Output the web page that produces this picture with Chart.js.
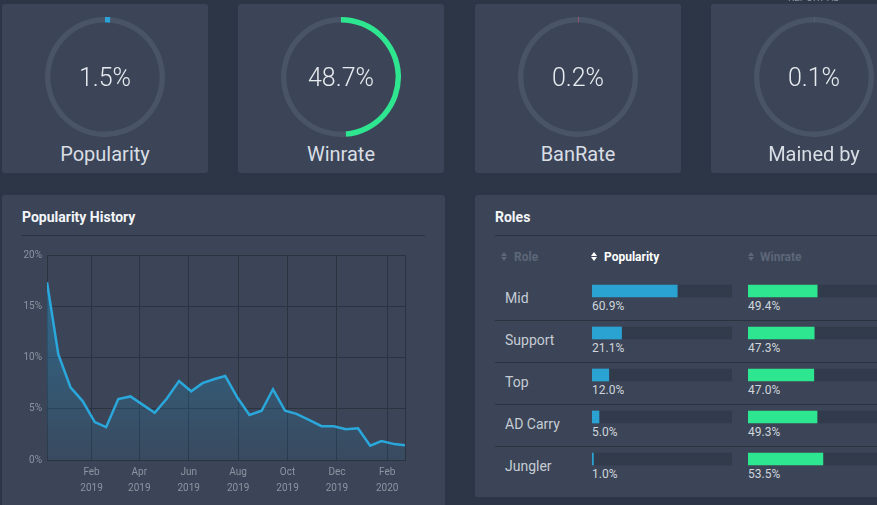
<!DOCTYPE html>
<html>
<head>
<meta charset="utf-8">
<script src="https://cdn.jsdelivr.net/npm/chart.js@4.4.0/dist/chart.umd.min.js"></script>
<style>
    body {
        margin: 0;
        width: 877px;
        height: 505px;
        overflow: hidden;
        position: relative;
        background: #2d3646;
        font-family: Roboto, 'Noto Sans', sans-serif;
    }
    .card { position: absolute; background: #3b4557; border-radius: 3px; }
    .abs { position: absolute; line-height: 1; white-space: nowrap; }
    .valor { font-size: 25px; font-weight: 300; color: #e8ebef; width: 206px; text-align: center; }
    .rotulo { font-size: 20px; color: #d9dee5; width: 206px; text-align: center; }
    .titulo { font-size: 14px; font-weight: 700; color: #f3f5f8; }
    .linha { position: absolute; height: 1px; background: #2a3240; }
    .cab { font-size: 12px; font-weight: 700; color: #5d6779; }
    .cab.ativo { color: #ffffff; }
    .papel { font-size: 14px; color: #c6ccd4; }
    .pct { font-size: 12px; color: #d0d5dc; }
    .sort { position: absolute; width: 7px; height: 9px; }
    .sort::before, .sort::after {
        content: ''; position: absolute; left: 0;
        border-left: 3.5px solid transparent; border-right: 3.5px solid transparent;
    }
    .sort::before { top: 0; border-bottom: 4px solid currentColor; }
    .sort::after { top: 5px; border-top: 4px solid currentColor; }
    canvas { position: absolute; }
</style>
</head>
<body>
<script>
// Indicadores do topo
const statLabels = ['Popularity', 'Winrate', 'BanRate', 'Mained by'];
const statValues = [1.5, 48.7, 0.2, 0.1];
const statColors = ['#2ba3d6', '#2fe690', '#e0587a', '#c9a3b3'];

// Histórico de popularidade
const historyDates = [
    '2018-12-08', '2018-12-22', '2019-01-06', '2019-01-21', '2019-02-05', '2019-02-19',
    '2019-03-06', '2019-03-21', '2019-04-05', '2019-04-20', '2019-05-05', '2019-05-20',
    '2019-06-04', '2019-06-18', '2019-07-03', '2019-07-16', '2019-07-31', '2019-08-15',
    '2019-08-30', '2019-09-13', '2019-09-28', '2019-10-12', '2019-10-28', '2019-11-12',
    '2019-11-27', '2019-12-12', '2019-12-27', '2020-01-11', '2020-01-25', '2020-02-10',
    '2020-02-23'
];
const historyValues = [
    17.35, 10.3, 7.1, 5.75, 3.7, 3.2,
    5.95, 6.2, 5.4, 4.6, 6.0, 7.7,
    6.7, 7.5, 7.9, 8.2, 6.1, 4.4,
    4.8, 6.9, 4.8, 4.5, 3.9, 3.3,
    3.3, 3.0, 3.1, 1.4, 1.85, 1.55,
    1.45
];
const tickDates = ['2019-02-01', '2019-04-01', '2019-06-01', '2019-08-01', '2019-10-01', '2019-12-01', '2020-02-01'];
const tickMonths = ['Feb', 'Apr', 'Jun', 'Aug', 'Oct', 'Dec', 'Feb'];
const tickYears = ['2019', '2019', '2019', '2019', '2019', '2019', '2020'];
const yTicks = [0, 5, 10, 15, 20];

// Tabela de funções
const roleNames = ['Mid', 'Support', 'Top', 'AD Carry', 'Jungler'];
const rolePopularity = [60.9, 21.1, 12.0, 5.0, 1.0];
const roleWinrate = [49.4, 47.3, 47.0, 49.3, 53.5];

Chart.defaults.font.family = "Roboto, 'Noto Sans', sans-serif";

function criar(tag, classe, estilo, texto) {
    const el = document.createElement(tag);
    if (classe) el.className = classe;
    if (estilo) el.style.cssText = estilo;
    if (texto !== undefined) el.textContent = texto;
    document.body.appendChild(el);
    return el;
}

const dia = s => Date.parse(s + 'T00:00:00Z') / 86400000;

// Cartões com rosca
const cardLeft = [2, 238, 475, 711];
statLabels.forEach((nome, i) => {
    const x = cardLeft[i];
    criar('div', 'card', `left:${x}px;top:4px;width:206px;height:169px;`);
    const cv = criar('canvas', null, `left:${x + 43}px;top:17px;`);
    cv.width = 120;
    cv.height = 120;
    new Chart(cv, {
        type: 'doughnut',
        data: {
            datasets: [{
                data: [statValues[i], 100 - statValues[i]],
                backgroundColor: [statColors[i], '#4a5467'],
                borderWidth: 0,
            }],
        },
        options: {
            responsive: false,
            animation: false,
            cutout: '91%',
            events: [],
            plugins: { legend: { display: false }, tooltip: { enabled: false } },
        },
    });
    criar('div', 'abs valor', `left:${x}px;top:65px;`, statValues[i].toFixed(1) + '%');
    criar('div', 'abs rotulo', `left:${x}px;top:144px;`, nome);
});
criar('div', 'abs', 'left:711px;top:-7px;width:206px;text-align:center;font-size:10px;color:#8b94a3;', 'REPORT AD');

// Cartão do histórico
criar('div', 'card', 'left:2px;top:195px;width:443px;height:330px;');
criar('div', 'abs titulo', 'left:22px;top:210px;', 'Popularity History');
criar('div', 'linha', 'left:22px;top:235px;width:403px;');

const cvHist = criar('canvas', null, 'left:10px;top:244px;');
cvHist.width = 410;
cvHist.height = 256;
const corGrade = '#2b3341';
new Chart(cvHist, {
    type: 'line',
    data: {
        datasets: [{
            data: historyDates.map((d, i) => ({ x: dia(d), y: historyValues[i] })),
            borderColor: '#2aa8dc',
            borderWidth: 2.5,
            pointRadius: 0,
            tension: 0,
            fill: 'origin',
            backgroundColor: (c) => {
                const area = c.chart.chartArea;
                if (!area) return null;
                const g = c.chart.ctx.createLinearGradient(0, area.top, 0, area.bottom);
                g.addColorStop(0, 'rgba(34,150,205,0.5)');
                g.addColorStop(1, 'rgba(34,150,205,0.07)');
                return g;
            },
        }],
    },
    options: {
        responsive: false,
        animation: false,
        events: [],
        layout: { padding: { top: 10, right: 15, left: 0, bottom: 0 } },
        plugins: { legend: { display: false }, tooltip: { enabled: false } },
        scales: {
            x: {
                type: 'linear',
                min: dia(historyDates[0]),
                max: dia(historyDates[historyDates.length - 1]),
                afterBuildTicks: s => { s.ticks = tickDates.map(d => ({ value: dia(d) })); },
                afterFit: s => { s.height = 40; },
                grid: { color: corGrade, drawTicks: false },
                border: { color: corGrade },
                ticks: {
                    color: '#8c95a2',
                    font: { size: 10, lineHeight: 1.6 },
                    padding: 4,
                    maxRotation: 0,
                    autoSkip: false,
                    callback: (v, i) => [tickMonths[i], tickYears[i]],
                },
            },
            y: {
                min: 0,
                max: 20,
                afterBuildTicks: s => { s.ticks = yTicks.map(v => ({ value: v })); },
                afterFit: s => { s.width = 37; },
                grid: { color: corGrade, drawTicks: false },
                border: { color: corGrade },
                ticks: {
                    color: '#8c95a2',
                    font: { size: 10 },
                    padding: 5,
                    callback: v => v + '%',
                },
            },
            y2: {
                position: 'right',
                min: 0,
                max: 20,
                grid: { display: false, drawTicks: false },
                border: { color: corGrade },
                ticks: { display: false },
                afterFit: s => { s.width = 0; },
            },
        },
    },
});

// Cartão de funções
criar('div', 'card', 'left:475px;top:195px;width:420px;height:302px;');
criar('div', 'abs titulo', 'left:495px;top:210px;', 'Roles');
criar('div', 'linha', 'left:495px;top:235px;width:382px;');

criar('span', 'sort', 'left:501px;top:252px;color:#5d6779;');
criar('div', 'abs cab', 'left:514px;top:251px;', 'Role');
criar('span', 'sort', 'left:591px;top:252px;color:#ffffff;');
criar('div', 'abs cab ativo', 'left:604px;top:251px;', 'Popularity');
criar('span', 'sort', 'left:748px;top:252px;color:#5d6779;');
criar('div', 'abs cab', 'left:760px;top:251px;', 'Winrate');

roleNames.forEach((nome, i) => {
    const y = 270 + i * 42;
    criar('div', 'abs papel', `left:505px;top:${y + 21}px;`, nome);
    criar('div', 'abs pct', `left:592px;top:${y + 30}px;`, rolePopularity[i].toFixed(1) + '%');
    criar('div', 'abs pct', `left:748px;top:${y + 30}px;`, roleWinrate[i].toFixed(1) + '%');
    if (i < roleNames.length - 1) {
        criar('div', 'linha', `left:495px;top:${y + 50}px;width:382px;`);
    }
});

function barrasPapel(left, valores, cor) {
    const cv = criar('canvas', null, `left:${left}px;top:270px;`);
    cv.width = 140;
    cv.height = 210;
    new Chart(cv, {
        type: 'bar',
        data: {
            labels: roleNames,
            datasets: [
                { data: valores, backgroundColor: cor, barThickness: 12, borderWidth: 0 },
                { data: valores.map(v => 100 - v), backgroundColor: '#323b4b', barThickness: 12, borderWidth: 0 },
            ],
        },
        options: {
            indexAxis: 'y',
            responsive: false,
            animation: false,
            events: [],
            layout: { padding: 0 },
            plugins: { legend: { display: false }, tooltip: { enabled: false } },
            scales: {
                x: { stacked: true, min: 0, max: 100, display: false },
                y: { stacked: true, display: false },
            },
        },
    });
}
barrasPapel(592, rolePopularity, '#2aa3d3');
barrasPapel(748, roleWinrate, '#2fe690');
</script>
</body>
</html>
